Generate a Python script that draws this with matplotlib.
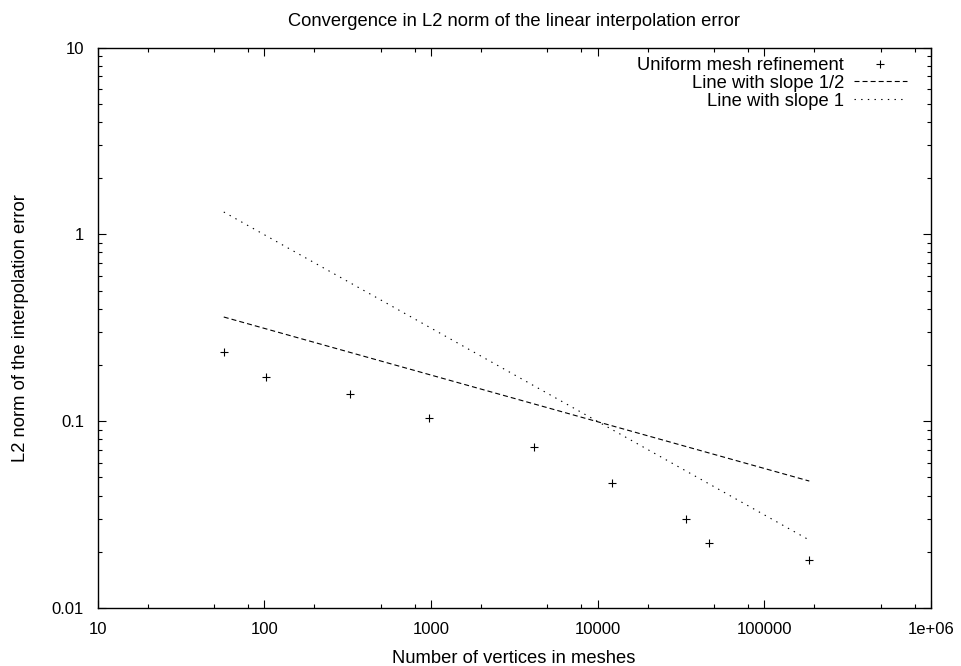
import matplotlib

matplotlib.use("Agg")
import matplotlib.pyplot as plt
from matplotlib.ticker import FixedLocator, LogLocator, NullFormatter

# ── Data ──────────────────────────────────────────────────────────────────────
n_vertices = [57.2, 102, 329, 970, 4170, 12200, 33900, 46800, 186200]
l2_error = [0.2355, 0.173, 0.1393, 0.1036, 0.0730, 0.0465, 0.0298, 0.0222, 0.0181]

# reference lines (end points)
half_x = [57.2, 186200]
half_y = [0.361, 0.0478]
one_x = [57.2, 186200]
one_y = [1.317, 0.0231]

x_ticks = [10, 100, 1000, 10000, 100000, 1000000]
x_ticklabels = ["10", "100", "1000", "10000", "100000", "1e+06"]
y_ticks = [0.01, 0.1, 1, 10]
y_ticklabels = ["0.01", "0.1", "1", "10"]

plt.rcParams["font.family"] = ["Liberation Sans", "DejaVu Sans"]
plt.rcParams["lines.scale_dashes"] = False

TEXT_SIZE = 13.2
TICK_SIZE = 12.0

W, H = 961, 666
fig = plt.figure(figsize=(W / 100, H / 100), dpi=100)
ax = fig.add_axes([97.5 / W, 1 - 608 / H, (931 - 97.5) / W, (608 - 47.5) / H])

ax.plot(
    n_vertices, l2_error, linestyle="none", marker="+", ms=6, mew=0.8,
    color="black", label="Uniform mesh refinement",
)
ax.plot(
    half_x, half_y, color="black", lw=0.8, linestyle=(0, (3.6, 2.2)),
    label="Line with slope 1/2",
)
ax.plot(
    one_x, one_y, color="black", lw=0.8, linestyle=(0, (1.0, 3.8)),
    label="Line with slope 1",
)

ax.set_xscale("log")
ax.set_yscale("log")
ax.set_xlim(10, 1e6)
ax.set_ylim(0.01, 10)

ax.xaxis.set_major_locator(FixedLocator(x_ticks))
ax.set_xticklabels(x_ticklabels)
ax.xaxis.set_minor_locator(LogLocator(base=10, subs=(2, 5, 8), numticks=20))
ax.xaxis.set_minor_formatter(NullFormatter())
ax.yaxis.set_major_locator(FixedLocator(y_ticks))
ax.set_yticklabels(y_ticklabels)
ax.yaxis.set_minor_locator(LogLocator(base=10, subs=range(2, 10), numticks=20))
ax.yaxis.set_minor_formatter(NullFormatter())

ax.tick_params(which="both", direction="in", top=True, right=True, width=0.8,
               labelsize=TICK_SIZE)
ax.tick_params(which="major", length=6)
ax.tick_params(which="minor", length=3)
ax.tick_params(axis="x", which="major", pad=10)
ax.tick_params(axis="y", which="major", pad=9.7)
for spine in ax.spines.values():
    spine.set_linewidth(1.0)

# axis titles placed in figure pixels, gnuplot style
fig.text(514 / W, 1 - 663 / H, "Number of vertices in meshes",
         ha="center", va="baseline", fontsize=TEXT_SIZE)
fig.text(21 / W, 1 - 328 / H, "L2 norm of the interpolation error",
         ha="center", va="center", rotation=90, fontsize=TEXT_SIZE)
fig.text(514 / W, 1 - 21 / H, "Convergence in L2 norm of the linear interpolation error",
         ha="center", va="center", fontsize=TEXT_SIZE)

leg = ax.legend(
    loc="upper right", bbox_to_anchor=(907 / W, 1 - 57 / H),
    bbox_transform=fig.transFigure, frameon=False, markerfirst=False,
    fontsize=TEXT_SIZE, handlelength=2.9, handletextpad=0.55, labelspacing=0.05,
    borderpad=0, borderaxespad=0, numpoints=1,
)

fig.savefig("out.png", dpi=100)
